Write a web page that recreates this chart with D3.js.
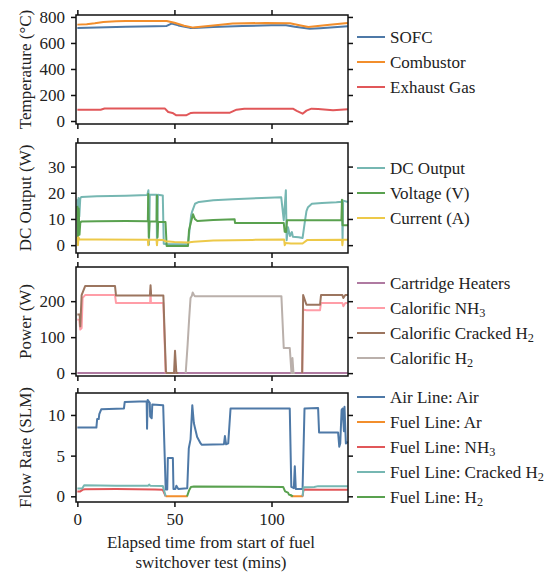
<!DOCTYPE html>
<html>
<head>
<meta charset="utf-8">
<script src="https://cdn.jsdelivr.net/npm/d3@7"></script>
<style>
  body { margin: 0; background: #fff; }
  text { font-family: "Liberation Serif", "Times New Roman", serif; fill: #222; }
</style>
</head>
<body>
<div id="chart"></div>
<script>
// x axis
var xTicks = [0, 50, 100];

// temperature panel (minutes, degC)
var sofc = [[0,715],[10,718],[25,724],[40,728],[46,731],[48.5,749],[52,735],[58,716],[60,715],[70,722],[85,730],[100,736],[107.5,736],[112,725],[119.7,710],[125,714],[139.3,728]];
var combustor = [[0,741],[4.8,744],[9,752],[13.4,762],[20,766],[25,769],[46,769],[50,755],[55,733],[59.7,718],[70,735],[80,749],[97,754],[109.5,752],[115,735],[119,723],[130,740],[139.3,754]];
var exhaust = [[0,87],[12,87],[14,96],[45,97],[46.8,69],[49,62],[51,44],[56,44],[58.5,62],[60,64],[78.6,64],[82,87],[86,95],[111,95],[113,78],[116,56],[118,80],[120.6,95],[124,92],[131.7,82],[139.3,90]];

// DC output panel
var dcOut = [[0,17.5],[0.3,10],[0.6,18],[1,11],[1.5,17.8],[2,18.4],[10,18.7],[25,18.9],[36,19.1],[36.6,21],[36.9,0.2],[37.3,19.2],[40.8,19.2],[41,0.2],[41.5,19.2],[44,19],[44.5,0.5],[46,0.3],[57,0.3],[58.6,11.4],[59.2,13],[60.6,15.8],[62.6,16.5],[70,17.1],[80,17.5],[95,18],[105,18.3],[106.3,9.5],[107.4,21],[107.8,1.9],[108.5,6.8],[109.5,3.5],[110.5,5],[111,3.2],[114,3],[116,2.7],[117,8],[118,13],[118.8,14.5],[120.8,15.8],[126,16.1],[133.4,16.4],[136.3,16.6],[136.6,1.9],[136.9,17],[139.3,16.5]];
var voltage = [[0,15],[0.3,3],[0.7,14],[1.1,4],[1.5,8.5],[2,9],[10,9.1],[25,9.2],[36.3,9.1],[36.5,19.5],[36.8,3],[37.2,9],[40.8,9],[41,19],[41.3,3],[41.6,8.9],[45.4,8.8],[46,-0.3],[57,-0.3],[57.5,5.7],[58.6,9],[59.6,11.8],[60.5,10],[61.8,9.2],[70,9.6],[81,9.9],[81.2,8.5],[106.3,8.5],[106.8,5.1],[107.5,5],[108,9.5],[136,9.5],[136.3,17.3],[136.6,7.6],[139.3,7.6]];
var current = [[0,3.2],[0.3,0],[0.6,3],[1,2.2],[10,2.15],[36.3,2.1],[36.5,0],[36.8,2.1],[40.8,2.1],[41,0],[41.3,2.1],[44,2],[45.5,1.5],[50,1.2],[56.9,1],[60,1.3],[70,1.8],[90,2],[106.5,2.2],[106.8,0],[107.2,0.8],[110,0.6],[116,0.6],[118.5,2],[136.3,2.1],[136.5,0],[136.8,2.1],[139.3,2.1]];

// power panel (null = not running)
var heaters = [[0,0],[139.3,0]];
var calNH3 = [[0,149],[1,148],[1.5,121],[2.2,125],[2.7,209],[4,217],[19.4,217],[19.9,195],[37.5,195],[37.7,230],[37.9,195],[44.3,195],[45.5,0],null,[115.8,0],[116.3,177],[118,175],[125,175],[125.5,195],[136.5,195],[137,186],[138,195],[139.3,195]];
var calCracked = [[0,163],[1.2,163],[1.5,130],[2.2,217],[4,242],[19.4,242],[19.9,216],[37.4,216],[37.7,244],[38,216],[44.3,216],[45,100],[45.6,5],[46,0],[49.8,0],[50.3,62],[51,0],[52,0],null,[115.8,0],[116.3,217],[118,190],[125,190],[125.5,217],[136.5,217],[137,209],[138,217],[139.3,217]];
var calH2 = [[55.8,0],[56.8,80],[57.6,153],[58.3,209],[59,215],[59.4,224],[60,218],[60.5,214],[105.1,214],[106.3,70],[109.4,70],[110.3,0],[110.8,42],[111.3,0],[112,0]];

// flow panel
var airAir = [[0,8.45],[9.8,8.45],[10.2,9.5],[11,9.5],[11.3,10.1],[12.3,10.7],[24,10.8],[24.4,11.6],[35.7,11.7],[35.9,8.3],[36.2,11.85],[37.3,11.5],[37.5,9.8],[38.3,9.6],[38.6,11.3],[44.2,11.2],[45.5,0.85],[46.3,0.85],[46.6,4.7],[49.2,4.7],[49.5,0.9],[50.5,0.9],[51,1.3],[52,0.9],[56.6,1],[57.4,5.9],[58.3,7],[59.2,11.2],[60,9],[60.5,8.5],[61.7,7.3],[63.5,6.5],[64,6.35],[75.5,6.4],[76,7.4],[76.6,6.4],[77.7,6.5],[78.9,10.8],[109.4,10.8],[110.2,1.15],[111.5,1],[112,3.7],[112.5,0.9],[116,0.9],[117,10.8],[124,10.85],[124.5,7.85],[134.3,7.85],[134.9,6.1],[135.4,6.5],[136.1,10.6],[136.6,10.8],[137.3,8],[137.6,11],[138.3,6.5],[139.3,6.7]];
var fuelAr = [[45.5,0],[56.8,0],null,[109.8,0],[116.2,0]];
var fuelNH3 = [[0,0.6],[1.5,0.6],[3,0.85],[4,0.88],[20,0.9],[40,0.85],[44,0.8],[45.5,0],null,[116,0],[116.5,0.85],[125,0.82],[139.3,0.8]];
var fuelCracked = [[0,0.95],[2.5,0.95],[3.5,1.35],[20,1.3],[36.5,1.3],[37,1.45],[37.5,1.3],[44,1.28],[45.5,0],null,[116,0],[116.5,1.1],[122,1.15],[124,1.25],[139.3,1.25]];
var fuelH2 = [[56.5,0],[57.5,0.7],[58.5,1.15],[60,1.2],[106,1.15],[107,0.6],[108.5,0.45],[109,0.2],[110,0.15],[111,0]];

var tab = d3.schemeTableau10;
// 0 blue,1 orange,2 red,3 teal,4 green,5 yellow,6 purple,7 pink,8 brown,9 grey

var panels = [
  {top: 15, bottom: 124, domain: [-23, 815], ticks: [0,200,400,600,800], label: "Temperature (°C)",
   series: [{d: sofc, c: tab[0], name: "SOFC"}, {d: combustor, c: tab[1], name: "Combustor"}, {d: exhaust, c: tab[2], name: "Exhaust Gas"}],
   legendY: 37},
  {top: 143, bottom: 253, domain: [-3, 39], ticks: [0,10,20,30], label: "DC Output (W)",
   series: [{d: dcOut, c: tab[3], name: "DC Output"}, {d: voltage, c: tab[4], name: "Voltage (V)"}, {d: current, c: tab[5], name: "Current (A)"}],
   legendY: 168},
  {top: 267, bottom: 376, domain: [-8, 295], ticks: [0,100,200], label: "Power (W)",
   series: [{d: heaters, c: tab[6], name: "Cartridge Heaters"}, {d: calNH3, c: tab[7], name: "Calorific NH_3"}, {d: calCracked, c: tab[8], name: "Calorific Cracked H_2"}, {d: calH2, c: tab[9], name: "Calorific H_2"}],
   legendY: 283},
  {top: 393, bottom: 502, domain: [-0.7, 12.7], ticks: [0,5,10], label: "Flow Rate (SLM)",
   series: [{d: airAir, c: tab[0], name: "Air Line: Air"}, {d: fuelAr, c: tab[1], name: "Fuel Line: Ar"}, {d: fuelNH3, c: tab[2], name: "Fuel Line: NH_3"}, {d: fuelCracked, c: tab[3], name: "Fuel Line: Cracked H_2"}, {d: fuelH2, c: tab[4], name: "Fuel Line: H_2"}],
   legendY: 397}
];

var W = 553, H = 574;
var left = 76, right = 348;
var fs = 17;

var svg = d3.select("#chart").append("svg")
  .attr("width", W).attr("height", H);

var x = d3.scaleLinear().domain([-0.7, 139.4]).range([left, right]);

// write "NH_3" as NH with a subscript 3
function addLabel(sel, str) {
  var parts = str.split("_");
  sel.append("tspan").text(parts[0]);
  for (var i = 1; i < parts.length; i++) {
    sel.append("tspan").attr("baseline-shift", "-22%").attr("font-size", fs * 0.72).text(parts[i].charAt(0));
    if (parts[i].length > 1) sel.append("tspan").text(parts[i].slice(1));
  }
}

panels.forEach(function(p, pi) {
  var y = d3.scaleLinear().domain(p.domain).range([p.bottom, p.top]);
  var g = svg.append("g");

  g.append("clipPath").attr("id", "clip" + pi)
    .append("rect").attr("x", left).attr("y", p.top).attr("width", right - left).attr("height", p.bottom - p.top);

  var line = d3.line()
    .defined(function(d) { return d != null; })
    .x(function(d) { return x(d[0]); })
    .y(function(d) { return y(d[1]); });

  g.append("g").attr("clip-path", "url(#clip" + pi + ")")
    .selectAll("path").data(p.series).join("path")
    .attr("d", function(s) { return line(s.d); })
    .attr("fill", "none")
    .attr("stroke", function(s) { return s.c; })
    .attr("stroke-width", 2)
    .attr("stroke-linejoin", "round");

  // axes on all four sides, ticks outward
  var ax = [
    d3.axisLeft(y).tickValues(p.ticks).tickSize(5).tickPadding(6),
    d3.axisRight(y).tickValues(p.ticks).tickSize(5).tickFormat(""),
    d3.axisTop(x).tickValues(xTicks).tickSize(5).tickFormat(""),
    d3.axisBottom(x).tickValues(xTicks).tickSize(5).tickPadding(6)
  ];
  var pos = ["translate(" + left + ",0)", "translate(" + right + ",0)", "translate(0," + p.top + ")", "translate(0," + p.bottom + ")"];
  ax.forEach(function(a, i) {
    var ag = g.append("g").attr("transform", pos[i]).call(a);
    ag.select(".domain").remove();
    ag.selectAll("line").attr("stroke", "#111").attr("stroke-width", 1.5);
    ag.selectAll("text").attr("font-size", fs).attr("font-family", "Liberation Serif").attr("fill", "#222");
    if (i == 3 && pi < 3) ag.selectAll("text").remove();
  });

  g.append("rect").attr("x", left).attr("y", p.top)
    .attr("width", right - left).attr("height", p.bottom - p.top)
    .attr("fill", "none").attr("stroke", "#111").attr("stroke-width", 1.5);

  g.append("text")
    .attr("transform", "translate(25," + ((p.top + p.bottom) / 2) + ") rotate(-90)")
    .attr("text-anchor", "middle").attr("dy", "0.35em")
    .attr("font-size", fs)
    .text(p.label);

  // legend
  p.series.forEach(function(s, i) {
    var ly = p.legendY + i * 25;
    g.append("line").attr("x1", 357).attr("x2", 385).attr("y1", ly).attr("y2", ly)
      .attr("stroke", s.c).attr("stroke-width", 2);
    var t = g.append("text").attr("x", 390).attr("y", ly).attr("dy", "0.35em").attr("font-size", fs);
    addLabel(t, s.name);
  });
});

svg.append("text").attr("x", 211).attr("y", 548).attr("text-anchor", "middle").attr("font-size", fs)
  .text("Elapsed time from start of fuel");
svg.append("text").attr("x", 211).attr("y", 568).attr("text-anchor", "middle").attr("font-size", fs)
  .text("switchover test (mins)");
</script>
</body>
</html>
